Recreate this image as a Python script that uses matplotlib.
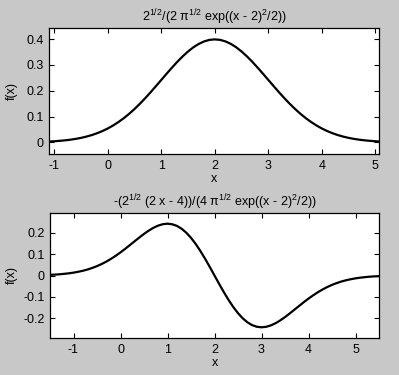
import matplotlib
matplotlib.use("Agg")
import matplotlib.pyplot as plt

plt.rcParams['font.family'] = ['Liberation Sans', 'DejaVu Sans']
plt.rcParams['mathtext.fontset'] = 'custom'
plt.rcParams['mathtext.rm'] = 'Liberation Sans'
plt.rcParams['mathtext.it'] = 'Liberation Sans'
plt.rcParams['axes.unicode_minus'] = False

# ---- data ----
x_top = [-1.1, -1.0, -0.9, -0.8, -0.7, -0.6, -0.5, -0.4, -0.3, -0.2, -0.1,
         0.0, 0.1, 0.2, 0.3, 0.4, 0.5, 0.6, 0.7, 0.8, 0.9, 1.0, 1.1, 1.2, 1.3,
         1.4, 1.5, 1.6, 1.7, 1.8, 1.9, 2.0, 2.1, 2.2, 2.3, 2.4, 2.5, 2.6, 2.7,
         2.8, 2.9, 3.0, 3.1, 3.2, 3.3, 3.4, 3.5, 3.6, 3.7, 3.8, 3.9, 4.0, 4.1,
         4.2, 4.3, 4.4, 4.5, 4.6, 4.7, 4.8, 4.9, 5.0, 5.1]
y_top = [0.0033, 0.0044, 0.0060, 0.0079, 0.0104, 0.0136, 0.0175, 0.0224, 0.0283,
         0.0355, 0.0440, 0.0540, 0.0656, 0.0790, 0.0940, 0.1109, 0.1295, 0.1497,
         0.1714, 0.1942, 0.2179, 0.2420, 0.2661, 0.2897, 0.3123, 0.3332, 0.3521,
         0.3683, 0.3814, 0.3910, 0.3970, 0.3989, 0.3970, 0.3910, 0.3814, 0.3683,
         0.3521, 0.3332, 0.3123, 0.2897, 0.2661, 0.2420, 0.2179, 0.1942, 0.1714,
         0.1497, 0.1295, 0.1109, 0.0940, 0.0790, 0.0656, 0.0540, 0.0440, 0.0355,
         0.0283, 0.0224, 0.0175, 0.0136, 0.0104, 0.0079, 0.0060, 0.0044, 0.0033]

x_bot = [-1.5, -1.4, -1.3, -1.2, -1.1, -1.0, -0.9, -0.8, -0.7, -0.6, -0.5, -0.4,
         -0.3, -0.2, -0.1, 0.0, 0.1, 0.2, 0.3, 0.4, 0.5, 0.6, 0.7, 0.8, 0.9, 1.0,
         1.1, 1.2, 1.3, 1.4, 1.5, 1.6, 1.7, 1.8, 1.9, 2.0, 2.1, 2.2, 2.3, 2.4,
         2.5, 2.6, 2.7, 2.8, 2.9, 3.0, 3.1, 3.2, 3.3, 3.4, 3.5, 3.6, 3.7, 3.8,
         3.9, 4.0, 4.1, 4.2, 4.3, 4.4, 4.5, 4.6, 4.7, 4.8, 4.9, 5.0, 5.1, 5.2,
         5.3, 5.4, 5.5]
y_bot = [0.0031, 0.0041, 0.0056, 0.0077, 0.0102, 0.0133, 0.0174, 0.0221, 0.0281,
         0.0354, 0.0438, 0.0538, 0.0651, 0.0781, 0.0924, 0.1080, 0.1246, 0.1422,
         0.1598, 0.1774, 0.1943, 0.2096, 0.2228, 0.2330, 0.2397, 0.2420, 0.2395,
         0.2318, 0.2186, 0.1999, 0.1760, 0.1473, 0.1144, 0.0782, 0.0397, 0.0,
         -0.0397, -0.0782, -0.1144, -0.1473, -0.1760, -0.1999, -0.2186, -0.2318,
         -0.2395, -0.2420, -0.2397, -0.2330, -0.2228, -0.2096, -0.1943, -0.1774,
         -0.1598, -0.1422, -0.1246, -0.1080, -0.0924, -0.0781, -0.0651, -0.0538,
         -0.0438, -0.0354, -0.0281, -0.0221, -0.0174, -0.0133, -0.0102, -0.0077,
         -0.0056, -0.0041, -0.0031]

top_xticks = [-1, 0, 1, 2, 3, 4, 5]
top_yticks = [0, 0.1, 0.2, 0.3, 0.4]
top_yticklabels = ['0', '0.1', '0.2', '0.3', '0.4']
bot_xticks = [-1, 0, 1, 2, 3, 4, 5]
bot_yticks = [-0.2, -0.1, 0, 0.1, 0.2]
bot_yticklabels = ['-0.2', '-0.1', '0', '0.1', '0.2']

top_title = '$\\mathregular{2^{1/2}/(2\\ \\pi^{1/2}\\ exp((x\\ \u2010\\ 2)^2/2))}$'
bot_title = '$\\mathregular{\u2010(2^{1/2}\\ (2\\ x\\ \u2010\\ 4))/(4\\ \\pi^{1/2}\\ exp((x\\ \u2010\\ 2)^2/2))}$'

bg = '#c8c8c8'
fig = plt.figure(figsize=(3.99, 3.75), dpi=100, facecolor=bg)

ax1 = fig.add_axes([49/399, 1-154/375, 330/399, 126/375])
ax2 = fig.add_axes([50/399, 1-338/375, 329/399, 125/375])

def style(ax):
    ax.set_facecolor('white')
    ax.tick_params(direction='in', top=True, right=True, length=3.5, width=0.8,
                   labelsize=9, colors='black', pad=4)
    for s in ax.spines.values():
        s.set_linewidth(0.9)
        s.set_color('black')

ax1.plot(x_top, y_top, color='black', lw=1.6)
ax1.set_xlim(-1.1, 5.07)
ax1.set_ylim(-0.045, 0.443)
ax1.set_xticks(top_xticks)
ax1.set_yticks(top_yticks)
ax1.set_yticklabels(top_yticklabels)
ax1.set_title(top_title, fontsize=9, pad=5)
ax1.set_xlabel('x', fontsize=9, labelpad=1)
ax1.set_ylabel('f(x)', fontsize=9, labelpad=6)
style(ax1)

ax2.plot(x_bot, y_bot, color='black', lw=1.6)
ax2.set_xlim(-1.5, 5.5)
ax2.set_ylim(-0.292, 0.292)
ax2.set_xticks(bot_xticks)
ax2.set_yticks(bot_yticks)
ax2.set_yticklabels(bot_yticklabels)
ax2.set_title(bot_title, fontsize=9, pad=5)
ax2.set_xlabel('x', fontsize=9, labelpad=1)
ax2.set_ylabel('f(x)', fontsize=9, labelpad=4)
style(ax2)

fig.savefig('out.png', dpi=100, facecolor=bg)
